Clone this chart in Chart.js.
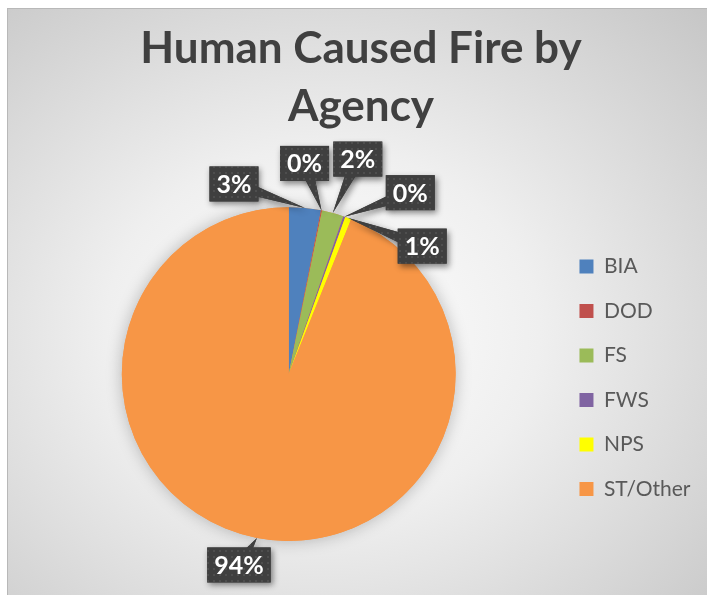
<!DOCTYPE html>
<html>
<head>
<meta charset="utf-8">
<script src="https://cdn.jsdelivr.net/npm/chart.js@4.4.0/dist/chart.umd.min.js"></script>
<style>
  html, body { margin: 0; padding: 0; background: #fff; }
  #frame {
    position: absolute; left: 7px; top: 8px; width: 700px; height: 587px;
    box-sizing: border-box; border-top: 1px solid #b8b8b8; border-left: 1px solid #b8b8b8;
    background: radial-gradient(ellipse farthest-corner at 45% 55%, #ffffff 0%, #efefef 40%, #c6c6c6 100%);
  }
  canvas { display: block; }
</style>
</head>
<body>
<div id="frame"><canvas id="fire-chart" width="699" height="586"></canvas></div>
<script>
const agencies = ['BIA', 'DOD', 'FS', 'FWS', 'NPS', 'ST/Other']
const fireCounts = [31, 1, 21, 2, 6, 939]
const sliceColors = ['#4f81bd', '#c0504d', '#9bbb59', '#8064a2', '#ffff00', '#f79646']
const titleLines = ['Human Caused Fire by', 'Agency']

// where each callout box sits relative to its slice edge
const labelOffsets = [[-71, -24], [-17, -47], [25, -54], [66, -24], [74, 28], [-18, 27]]

function dotPattern(ctx) {
  const c = document.createElement('canvas')
  c.width = 6; c.height = 6
  const p = c.getContext('2d')
  p.fillStyle = '#3f3f3f'
  p.fillRect(0, 0, 6, 6)
  p.fillStyle = '#4e4e4e'
  p.fillRect(1, 1, 2, 2)
  return ctx.createPattern(c, 'repeat')
}

const pieShadow = {
  id: 'pieShadow',
  beforeDatasetsDraw(chart) {
    const arc = chart.getDatasetMeta(0).data[0]
    if (!arc) return
    const { x, y, outerRadius } = arc.getProps(['x', 'y', 'outerRadius'], true)
    const ctx = chart.ctx
    ctx.save()
    ctx.shadowColor = 'rgba(0,0,0,0.25)'
    ctx.shadowBlur = 16
    ctx.fillStyle = '#f79646'
    ctx.beginPath()
    ctx.arc(x, y, outerRadius, 0, Math.PI * 2)
    ctx.fill()
    ctx.restore()
  }
}

const callouts = {
  id: 'callouts',
  afterDatasetsDraw(chart) {
    const ctx = chart.ctx
    const meta = chart.getDatasetMeta(0)
    const total = fireCounts.reduce((a, b) => a + b, 0)
    const pattern = dotPattern(ctx)
    ctx.save()
    ctx.font = 'bold 25px Lato'
    const boxes = meta.data.map((arc, i) => {
      const { x, y, startAngle, endAngle, outerRadius } = arc.getProps(['x', 'y', 'startAngle', 'endAngle', 'outerRadius'], true)
      const mid = (startAngle + endAngle) / 2
      const ax = x + Math.cos(mid) * outerRadius
      const ay = y + Math.sin(mid) * outerRadius
      const cx = ax + labelOffsets[i][0]
      const cy = ay + labelOffsets[i][1]
      const text = Math.round(fireCounts[i] / total * 100) + '%'
      const w = ctx.measureText(text).width + 14
      const h = 35
      return { ax, ay, cx, cy, w, h, text }
    })

    const shape = (b) => {
      const dx = b.ax - b.cx, dy = b.ay - b.cy
      const len = Math.hypot(dx, dy) || 1
      const px = -dy / len * 7, py = dx / len * 7
      ctx.beginPath()
      ctx.moveTo(b.cx + px, b.cy + py)
      ctx.lineTo(b.ax, b.ay)
      ctx.lineTo(b.cx - px, b.cy - py)
      ctx.closePath()
      ctx.fill()
      ctx.fillRect(b.cx - b.w / 2, b.cy - b.h / 2, b.w, b.h)
    }

    ctx.shadowColor = 'rgba(0,0,0,0.45)'
    ctx.shadowBlur = 6
    ctx.shadowOffsetX = 2
    ctx.shadowOffsetY = 3
    ctx.fillStyle = '#3f3f3f'
    boxes.forEach(shape)
    ctx.shadowColor = 'transparent'
    ctx.fillStyle = pattern
    boxes.forEach(shape)

    ctx.fillStyle = '#ffffff'
    ctx.textAlign = 'center'
    ctx.textBaseline = 'middle'
    boxes.forEach(b => ctx.fillText(b.text, b.cx, b.cy + 1))
    ctx.restore()
  }
}

const ctx = document.getElementById('fire-chart').getContext('2d')
new Chart(ctx, {
  type: 'pie',
  data: {
    labels: agencies,
    datasets: [{
      data: fireCounts,
      backgroundColor: sliceColors,
      borderWidth: 0
    }]
  },
  options: {
    responsive: false,
    animation: false,
    layout: { padding: { top: 0, bottom: 54, left: 13.5, right: 6.5 } },
    plugins: {
      title: {
        display: true,
        text: titleLines,
        color: '#404040',
        font: { family: 'Lato', size: 44, weight: 'bold', lineHeight: 1.32 },
        padding: { top: 11, bottom: 71 }
      },
      legend: {
        position: 'right',
        // empty title only pushes the items down beside the pie
        title: { display: true, text: '', font: { size: 10 }, padding: { top: 193.5, bottom: 0 } },
        labels: {
          color: '#595959',
          font: { family: 'Lato', size: 21 },
          boxWidth: 14,
          boxHeight: 14,
          padding: 23.5
        }
      },
      tooltip: { enabled: false }
    }
  },
  plugins: [pieShadow, callouts]
})
</script>
</body>
</html>
